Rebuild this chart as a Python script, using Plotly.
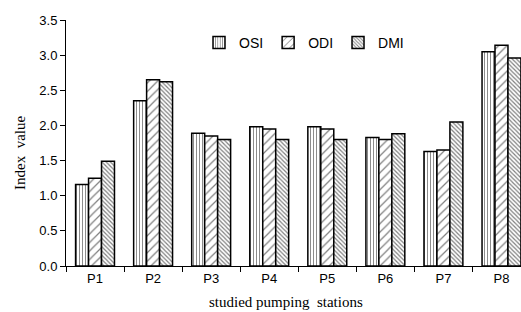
import plotly.graph_objects as go

categories = ["P1", "P2", "P3", "P4", "P5", "P6", "P7", "P8"]
osi = [1.16, 2.35, 1.89, 1.98, 1.98, 1.83, 1.63, 3.05]
odi = [1.25, 2.65, 1.85, 1.95, 1.95, 1.80, 1.65, 3.14]
dmi = [1.49, 2.62, 1.80, 1.80, 1.80, 1.88, 2.05, 2.96]
y_ticks = [0.0, 0.5, 1.0, 1.5, 2.0, 2.5, 3.0, 3.5]

W, H = 521, 312
L, T = 66, 20
B = H - 266
PW, PH = W - L, H - T - B


def px_x(sx):
    return (sx - L) / PW


def px_y(sy):
    return 1 - (sy - T) / PH


fig = go.Figure()
series = [("OSI", osi, "|", 3, 0.3), ("ODI", odi, "/", 6, 0.2), ("DMI", dmi, "\\", 3, 0.4)]
for name, vals, shape, size, sol in series:
    fig.add_trace(go.Bar(
        x=categories, y=vals, name=name,
        marker=dict(color="white", line=dict(color="black", width=1.5),
                    pattern=dict(shape=shape, fgcolor="black", bgcolor="white",
                                 size=size, solidity=sol, fillmode="overlay")),
    ))

fig.update_layout(
    width=W, height=H,
    margin=dict(l=L, r=0, t=T, b=B, autoexpand=False),
    paper_bgcolor="white", plot_bgcolor="white",
    barmode="group", bargap=0.33, bargroupgap=0,
    font=dict(family="Liberation Sans, Arial", size=13, color="black"),
    showlegend=True,
    legend=dict(orientation="h", x=px_x(304), y=px_y(43),
                xanchor="center", yanchor="middle",
                font=dict(size=14, family="Liberation Sans, Arial"),
                itemwidth=30, bgcolor="rgba(0,0,0,0)"),
    xaxis=dict(range=[-0.5, 7.336], showline=True, linecolor="black", linewidth=1,
               ticks="outside", tickson="boundaries", ticklen=5, tickcolor="black",
               showgrid=False, tickfont=dict(size=13), automargin=False),
    yaxis=dict(range=[0, 3.5], tickvals=y_ticks, tickformat=".1f", showline=True,
               linecolor="black", linewidth=1, ticks="outside", ticklen=5,
               tickcolor="black", showgrid=False, zeroline=False,
               tickfont=dict(size=13), automargin=False),
    annotations=[
        dict(text="Index  value", xref="paper", yref="paper", x=px_x(20),
             y=px_y(153), xanchor="center", yanchor="middle",
             textangle=-90, showarrow=False,
             font=dict(family="Liberation Serif, Times New Roman", size=15)),
        dict(text="studied pumping  stations", xref="paper", yref="paper",
             x=px_x(286), y=px_y(302),
             xanchor="center", yanchor="middle", showarrow=False,
             font=dict(family="Liberation Serif, Times New Roman", size=15)),
    ],
)

fig.write_html(
    "out.html",
    config={"displayModeBar": False},
    post_script="document.body.style.margin='0';document.body.style.overflow='hidden';",
)
